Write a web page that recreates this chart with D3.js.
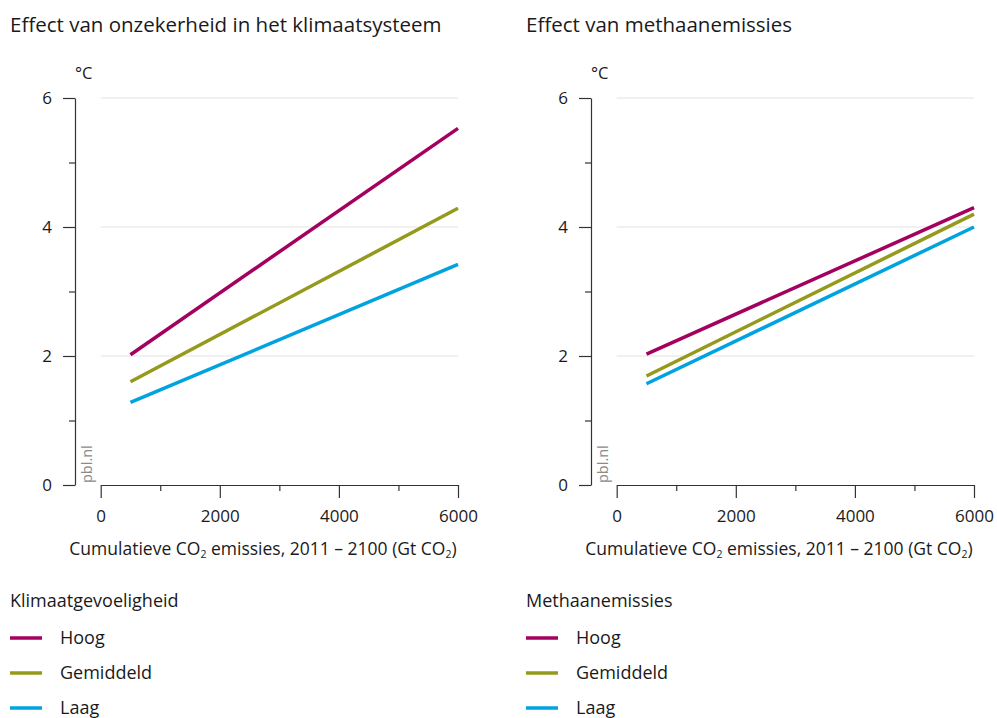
<!DOCTYPE html>
<html>
<head>
<meta charset="utf-8">
<script src="https://cdn.jsdelivr.net/npm/d3@7"></script>
<style>
  body { margin: 0; background: #fff; }
  svg text { font-family: "Open Sans", "Noto Sans", sans-serif; fill: #1a1a1a; }
</style>
</head>
<body>
<svg id="chart" width="997" height="718"></svg>
<script>
// Cumulative CO2 emissions at the two end points of each line (Gt CO2)
const emissions = [500, 6000];

// Left panel: climate sensitivity (°C)
const sensitivityTitle = "Effect van onzekerheid in het klimaatsysteem";
const sensitivityLegendTitle = "Klimaatgevoeligheid";
const sensitivityHoog = [2.02, 5.53];
const sensitivityGemiddeld = [1.60, 4.29];
const sensitivityLaag = [1.28, 3.42];

// Right panel: methane emissions (°C)
const methaneTitle = "Effect van methaanemissies";
const methaneLegendTitle = "Methaanemissies";
const methaneHoog = [2.03, 4.30];
const methaneGemiddeld = [1.69, 4.20];
const methaneLaag = [1.57, 4.00];

const seriesNames = ["Hoog", "Gemiddeld", "Laag"];
const seriesColors = ["#a4005f", "#959a1c", "#00a3e0"];

const yMajorTicks = [0, 2, 4, 6];
const yMinorTicks = [1, 3, 5];
const xMajorTicks = [0, 2000, 4000, 6000];
const xMinorTicks = [1000, 3000, 5000];

const svg = d3.select("#chart");

function drawPanel(offset, title, legendTitle, values) {
  const g = svg.append("g").attr("transform", `translate(${offset},0)`);

  const x = d3.scaleLinear().domain([0, 6000]).range([100.7, 458]);
  const y = d3.scaleLinear().domain([0, 6]).range([485, 98]);
  const yAxisX = 75;

  g.append("text").attr("x", 10).attr("y", 32)
    .style("font-size", "20.5px").text(title);

  // gridlines
  g.append("g").selectAll("line").data([2, 4, 6]).join("line")
    .attr("x1", x(0)).attr("x2", x(6000))
    .attr("y1", d => y(d)).attr("y2", d => y(d))
    .attr("stroke", "#e3e3e3").attr("stroke-width", 1);

  // y axis
  const yAx = g.append("g").attr("transform", `translate(${yAxisX},0)`);
  yAx.call(d3.axisLeft(y).tickValues(yMajorTicks).tickSize(12).tickSizeOuter(0)
    .tickPadding(11).tickFormat(d3.format("d")));
  yAx.append("g").call(d3.axisLeft(y).tickValues(yMinorTicks).tickSize(6)
    .tickSizeOuter(0).tickFormat(""))
    .select(".domain").remove();
  yAx.selectAll("path, line").attr("stroke", "#333").attr("stroke-width", 1.2);
  yAx.selectAll("text").style("font-size", "17px").attr("fill", "#1a1a1a");

  g.append("text").attr("x", 75).attr("y", 79)
    .style("font-size", "16.5px").text("°C");

  // x axis
  const xAx = g.append("g").attr("transform", "translate(0,485)");
  xAx.call(d3.axisBottom(x).tickValues(xMajorTicks).tickSize(13).tickSizeOuter(0)
    .tickPadding(12).tickFormat(d3.format("d")));
  xAx.append("g").call(d3.axisBottom(x).tickValues(xMinorTicks).tickSize(6)
    .tickSizeOuter(0).tickFormat(""))
    .select(".domain").remove();
  xAx.selectAll("path, line").attr("stroke", "#333").attr("stroke-width", 1.2);
  xAx.selectAll("text").style("font-size", "17px").attr("fill", "#1a1a1a");

  const xt = g.append("text").attr("x", 263).attr("y", 555)
    .attr("text-anchor", "middle").style("font-size", "17.5px");
  xt.append("tspan").text("Cumulatieve CO");
  xt.append("tspan").style("font-size", "10.5px").attr("dy", 3).text("2");
  xt.append("tspan").attr("dy", -3).text(" emissies, 2011 – 2100 (Gt CO");
  xt.append("tspan").style("font-size", "10.5px").attr("dy", 3).text("2");
  xt.append("tspan").attr("dy", -3).text(")");

  // source mark
  g.append("text").attr("transform", "translate(92,483) rotate(-90)")
    .style("font-size", "14.5px").style("fill", "#8a8a8a").text("pbl.nl");

  // lines
  const line = d3.line().x(d => x(d[0])).y(d => y(d[1]));
  values.forEach((vals, i) => {
    g.append("path")
      .datum(emissions.map((e, j) => [e, vals[j]]))
      .attr("d", line).attr("fill", "none")
      .attr("stroke", seriesColors[i]).attr("stroke-width", 3.5);
  });

  // legend
  g.append("text").attr("x", 10).attr("y", 607)
    .style("font-size", "18px").text(legendTitle);
  const lg = g.append("g").selectAll("g").data(seriesNames).join("g")
    .attr("transform", (d, i) => `translate(0,${638 + i * 35})`);
  lg.append("line").attr("x1", 10).attr("x2", 42).attr("y1", 0).attr("y2", 0)
    .attr("stroke", (d, i) => seriesColors[i]).attr("stroke-width", 3.5);
  lg.append("text").attr("x", 60).attr("y", 6)
    .style("font-size", "18px").text(d => d);
}

drawPanel(0, sensitivityTitle, sensitivityLegendTitle,
  [sensitivityHoog, sensitivityGemiddeld, sensitivityLaag]);
drawPanel(516, methaneTitle, methaneLegendTitle,
  [methaneHoog, methaneGemiddeld, methaneLaag]);
</script>
</body>
</html>
